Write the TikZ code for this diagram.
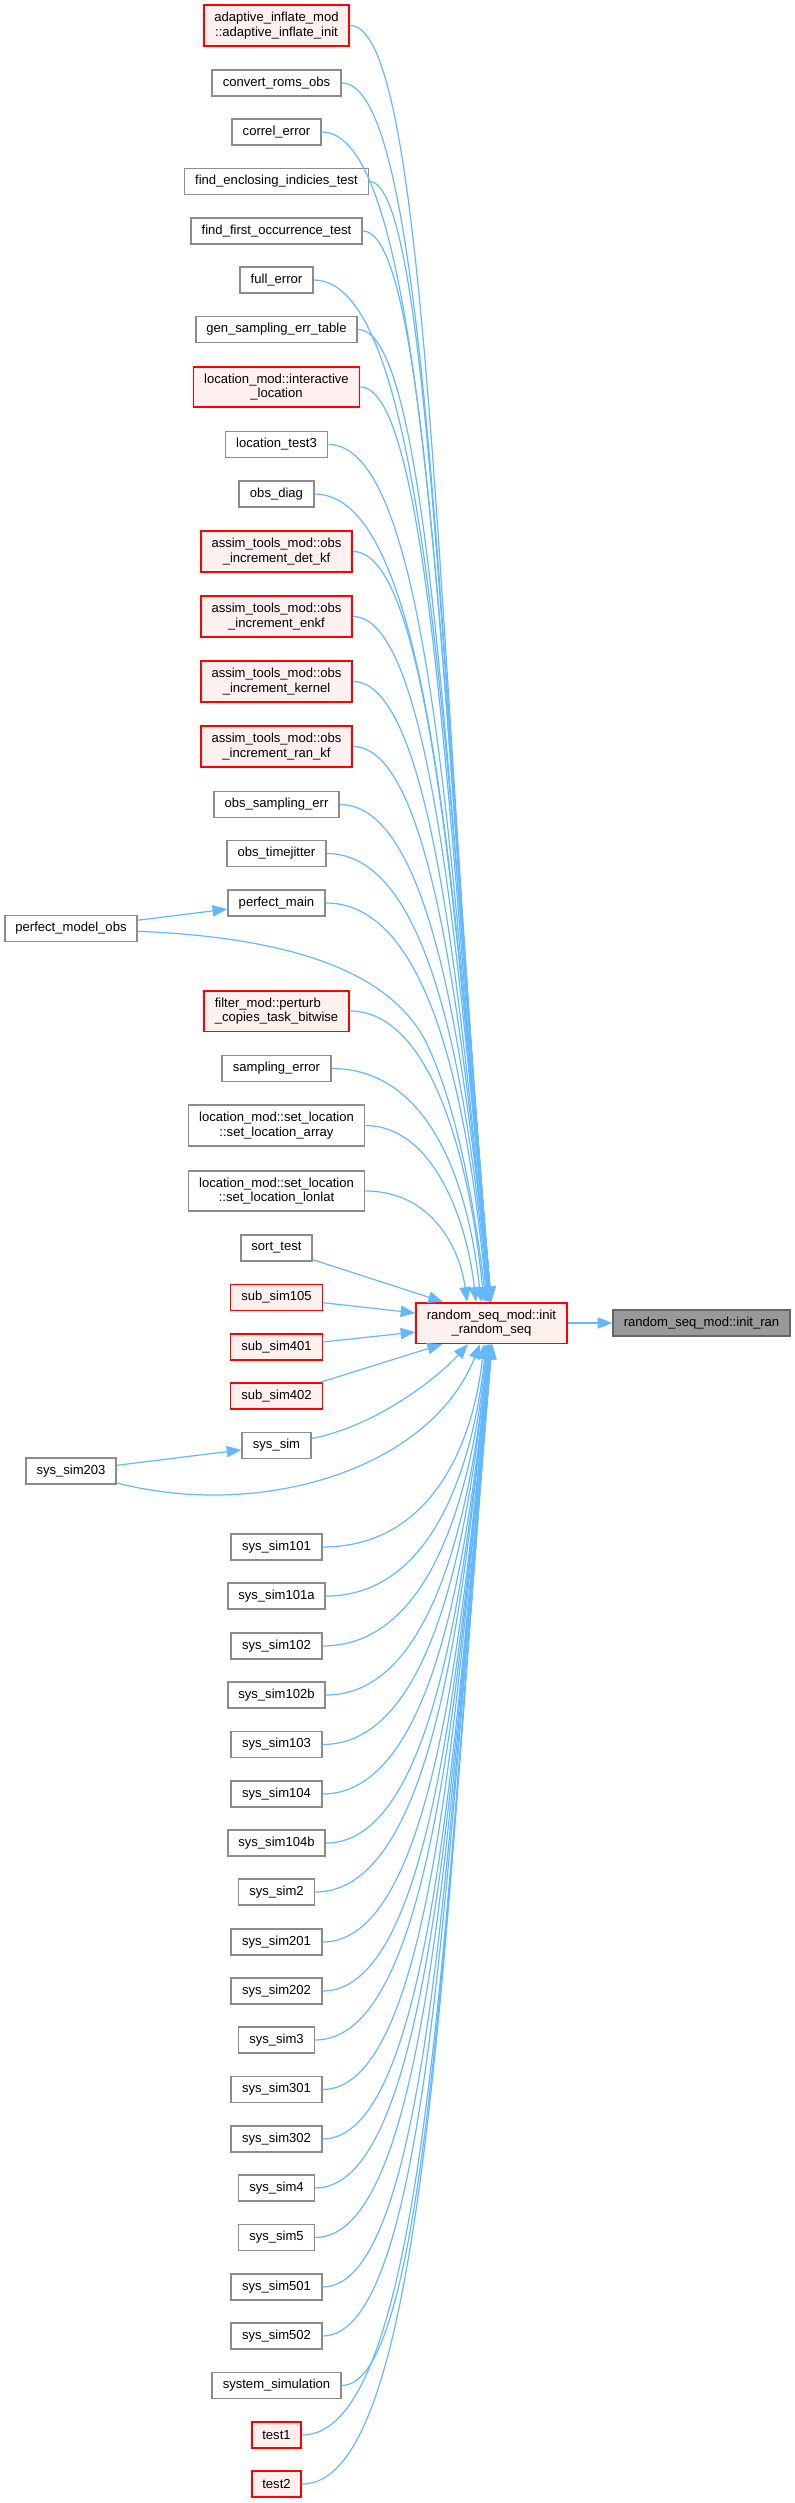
\documentclass[tikz,border=0pt]{standalone}
\usepackage{fontspec}
\setmainfont{Liberation Sans}
\usepackage{tikz}
\usetikzlibrary{arrows.meta, calc}
\definecolor{edgeblue}{RGB}{99,184,255}
\definecolor{boxgray}{RGB}{140,140,140}
\definecolor{boxred}{RGB}{255,0,0}
\definecolor{redfill}{RGB}{255,240,240}
\definecolor{curfill}{RGB}{153,153,153}
\definecolor{curborder}{RGB}{102,102,102}

\tikzset{
    fn/.style={draw=boxgray, fill=white, line width=1.3pt, font=\fontsize{9.8}{11}\selectfont,
        inner xsep=8pt, inner ysep=5.2pt, minimum height=19.5pt, align=center},
    fnred/.style={fn, draw=boxred, fill=redfill},
    fnredl/.style={fnred, align=left},
    fncur/.style={fn, draw=curborder, fill=curfill},
    calls/.style={draw=edgeblue, line width=0.9pt, -{Triangle[length=11pt,width=8.5pt]}}
}

\begin{document}
\begin{tikzpicture}[x=0.75pt, y=-0.75pt]
    \useasboundingbox (0,0) rectangle (794,2503);

    % Target function and the one it calls
    \node[fnred] (rs) at (491.5,1323) {random\_seq\_mod::init\\\_random\_seq};
    \node[fncur] (ir) at (701.5,1323) {random\_seq\_mod::init\_ran};
    \draw[calls] (rs) -- (ir);

    % Callers column
    \foreach \name/\ypos/\sty/\lbl in {
        adapt/25.5/fnred/{adaptive\_inflate\_mod\\::adaptive\_inflate\_init},
        convroms/83/fn/convert\_roms\_obs,
        correl/132/fn/correl\_error,
        findencl/181.5/fn/find\_enclosing\_indicies\_test,
        findfirst/231/fn/find\_first\_occurrence\_test,
        fullerr/280/fn/full\_error,
        gensamp/329.5/fn/gen\_sampling\_err\_table,
        interloc/387/fnred/{location\_mod::interactive\\\_location},
        loctest/444.5/fn/location\_test3,
        obsdiag/494/fn/obs\_diag,
        detkf/551.5/fnred/{assim\_tools\_mod::obs\\\_increment\_det\_kf},
        enkf/616.5/fnred/{assim\_tools\_mod::obs\\\_increment\_enkf},
        kernel/681.5/fnred/{assim\_tools\_mod::obs\\\_increment\_kernel},
        rankf/746.5/fnred/{assim\_tools\_mod::obs\\\_increment\_ran\_kf},
        obssamp/804.5/fn/obs\_sampling\_err,
        jitter/853.5/fn/obs\_timejitter,
        pmain/903/fn/perfect\_main,
        perturb/1011/fnredl/{filter\_mod::perturb\\\_copies\_task\_bitwise},
        samperr/1068.5/fn/sampling\_error,
        setarr/1125.5/fn/{location\_mod::set\_location\\::set\_location\_array},
        setlonlat/1191/fn/{location\_mod::set\_location\\::set\_location\_lonlat},
        sorttest/1248/fn/sort\_test,
        sub105/1297.5/fnred/sub\_sim105,
        sub401/1347/fnred/sub\_sim401,
        sub402/1396/fnred/sub\_sim402,
        syssim/1445.5/fn/sys\_sim,
        s101/1547/fn/sys\_sim101,
        s101a/1596/fn/sys\_sim101a,
        s102/1646/fn/sys\_sim102,
        s102b/1695/fn/sys\_sim102b,
        s103/1744.5/fn/sys\_sim103,
        s104/1794/fn/sys\_sim104,
        s104b/1843/fn/sys\_sim104b,
        s2/1892/fn/sys\_sim2,
        s201/1942/fn/sys\_sim201,
        s202/1991/fn/sys\_sim202,
        s3/2040/fn/sys\_sim3,
        s301/2089.5/fn/sys\_sim301,
        s302/2139/fn/sys\_sim302,
        s4/2188/fn/sys\_sim4,
        s5/2237.5/fn/sys\_sim5,
        s501/2287/fn/sys\_sim501,
        s502/2336/fn/sys\_sim502,
        syssimul/2385.5/fn/system\_simulation,
        test1/2435/fnred/test1,
        test2/2484/fnred/test2} {
        \node[\sty] (\name) at (276.5,\ypos) {\lbl};
    }

    % Callers of callers
    \node[fn] (pmo) at (71,928.5) {perfect\_model\_obs};
    \node[fn] (s203) at (71,1471) {sys\_sim203};

    % Edges into the top of init_random_seq
    \foreach \name/\ypos/\tx in {adapt/25.5/491, convroms/83/491, correl/132/491,
        findencl/181.5/491, findfirst/231/491, fullerr/280/491, gensamp/329.5/491,
        interloc/387/490, loctest/444.5/490, obsdiag/494/490, detkf/551.5/490,
        enkf/616.5/490, kernel/681.5/489, rankf/746.5/489, obssamp/804.5/489,
        jitter/853.5/488, pmain/903/487, perturb/1011/484, samperr/1068.5/481,
        setarr/1125.5/476, setlonlat/1191/467} {
        \pgfmathsetmacro\dy{1303-\ypos}
        \pgfmathsetmacro\dx{\tx-491.5}
        \pgfmathsetmacro\px{\dx-3-0.04*\dy}
        \pgfmathsetmacro\hdy{0.5*\dy}
        \draw[calls] (\name) .. controls (430,\ypos) and ($(rs.north)+(\px,-\hdy)$) .. ($(rs.north)+(\dx,0)$);
    }

    % Edges into the bottom of init_random_seq
    \foreach \name/\ypos/\tx in {s101/1547/484, s101a/1596/486, s102/1646/487,
        s102b/1695/488, s103/1744.5/488, s104/1794/489, s104b/1843/489, s2/1892/489,
        s201/1942/490, s202/1991/490, s3/2040/490, s301/2089.5/490, s302/2139/491,
        s4/2188/491, s5/2237.5/491, s501/2287/491, s502/2336/491, syssimul/2385.5/492,
        test1/2435/492, test2/2484/492} {
        \pgfmathsetmacro\dy{\ypos-1343}
        \pgfmathsetmacro\dx{\tx-491.5}
        \pgfmathsetmacro\px{\dx-3-0.04*\dy}
        \pgfmathsetmacro\hdy{0.5*\dy}
        \draw[calls] (\name) .. controls (430,\ypos) and ($(rs.south)+(\px,\hdy)$) .. ($(rs.south)+(\dx,0)$);
    }

    % Short edges from the side
    \draw[calls] (sorttest) -- ($(rs.north)+(-48.5,0)$);
    \draw[calls] (sub105) -- ($(rs.west)+(0,-10)$);
    \draw[calls] (sub401) -- ($(rs.west)+(0,9)$);
    \draw[calls] (sub402) -- ($(rs.south)+(-49.5,0)$);
    \draw[calls] (syssim) .. controls (380,1425) and (440,1375) .. ($(rs.south)+(-23.5,0)$);

    % Second level callers
    \draw[calls] (pmo) -- (pmain);
    \draw[calls] (pmo) .. controls (300,938) and (390,975) .. (425,1040)
        .. controls (455,1100) and (474,1200) .. ($(rs.north)+(-5.5,0)$);
    \draw[calls] (s203) -- (syssim);
    \draw[calls] (s203) .. controls (260,1520) and (430,1470) .. ($(rs.south)+(-11.5,0)$);
\end{tikzpicture}
\end{document}
